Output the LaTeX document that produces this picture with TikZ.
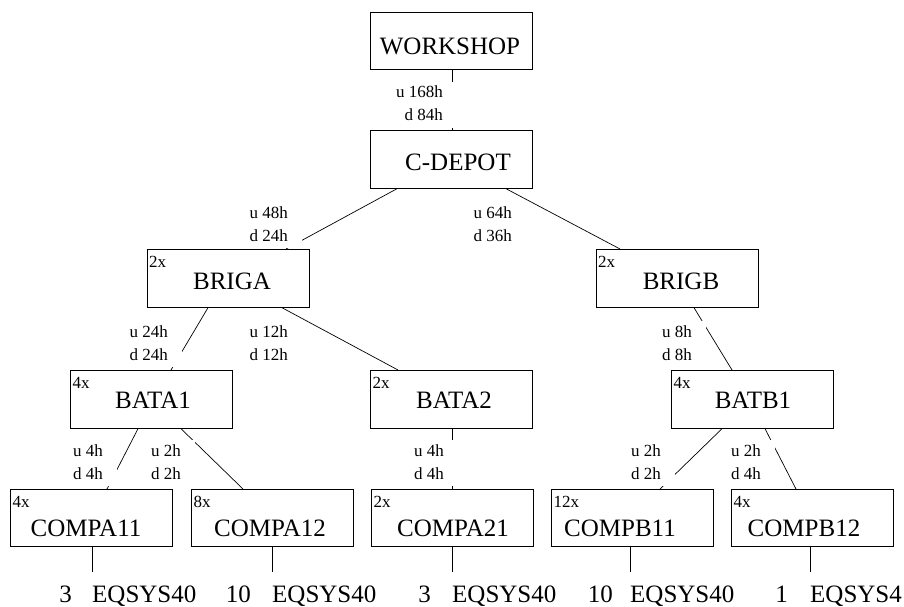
\documentclass[tikz,border=0pt]{standalone}
\usepackage{fontspec}
\setmainfont{Liberation Serif}
\usetikzlibrary{calc}
\newcommand{\udlbl}[2]{\begin{tabular}{@{}r@{\hspace{14pt}}}#1\\#2\end{tabular}}
\tikzset{
  box/.style={draw, anchor=north west, minimum width=162pt, minimum height=58pt, inner sep=0pt, line width=0.7pt},
  nm/.style={anchor=base, inner sep=0pt, font=\fontsize{25}{30}\selectfont},
  cnt/.style={anchor=base west, inner sep=0pt, font=\fontsize{17}{20}\selectfont},
  lbl/.style={anchor=east, fill=white, inner sep=0pt, font=\fontsize{17}{23}\selectfont},
  conn/.style={line width=0.7pt},
  bot/.style={anchor=base, inner sep=0pt, font=\fontsize{25}{30}\selectfont},
}
\begin{document}
\begin{tikzpicture}[x=1pt,y=-1pt]
\useasboundingbox (0,0) rectangle (904,607);
\fill[white] (0,0) rectangle (904,607);
% boxes
\node[box, minimum height=57pt] (ws) at (370,12) {};
\node[box] (cd) at (370,130) {};
\node[box] (briga) at (147,249) {};
\node[box] (brigb) at (596,249) {};
\node[box] (bata1) at (70,370) {};
\node[box] (bata2) at (370,370) {};
\node[box] (batb1) at (671,370) {};
\node[box, minimum height=57pt] (compa11) at (10,489) {};
\node[box, minimum height=57pt] (compa12) at (191,489) {};
\node[box, minimum height=57pt] (compa21) at (371,489) {};
\node[box, minimum height=57pt] (compb11) at (551,489) {};
\node[box, minimum height=57pt] (compb12) at (731,489) {};
% names
\node[nm] (wsn) at (450,55) {WORKSHOP};
\node[nm] (cdn) at (458,170) {C-DEPOT};
\node[nm] (brigan) at (232,289) {BRIGA};
\node[nm] (brigbn) at (681,289) {BRIGB};
\node[nm] (bata1n) at (153,408) {BATA1};
\node[nm] (bata2n) at (454,408) {BATA2};
\node[nm] (batb1n) at (753,408) {BATB1};
\node[nm] (compa11n) at (86,536) {COMPA11};
\node[nm] (compa12n) at (270,536) {COMPA12};
\node[nm] (compa21n) at (453,536) {COMPA21};
\node[nm] (compb11n) at (620,536) {COMPB11};
\node[nm] (compb12n) at (804,536) {COMPB12};
% counts
\node[cnt] (brigac) at ([shift={(2,18)}]briga.north west) {2x};
\node[cnt] (brigbc) at ([shift={(2,18)}]brigb.north west) {2x};
\node[cnt] (bata1c) at ([shift={(2.5,18.5)}]bata1.north west) {4x};
\node[cnt] (bata2c) at ([shift={(2.5,18.5)}]bata2.north west) {2x};
\node[cnt] (batb1c) at ([shift={(2.5,18.5)}]batb1.north west) {4x};
\node[cnt] (compa11c) at ([shift={(2.5,18.5)}]compa11.north west) {4x};
\node[cnt] (compa12c) at ([shift={(2.5,18.5)}]compa12.north west) {8x};
\node[cnt] (compa21c) at ([shift={(2.5,18.5)}]compa21.north west) {2x};
\node[cnt] (compb11c) at ([shift={(2.5,18.5)}]compb11.north west) {12x};
\node[cnt] (compb12c) at ([shift={(2.5,18.5)}]compb12.north west) {4x};
% connectors
\draw[conn] ([xshift=82pt]ws.south west) -- ([xshift=82pt]cd.north west);
\draw[conn] ([xshift=27pt]cd.south west) -- ([xshift=139pt]briga.north west);
\draw[conn] ([xshift=136pt]cd.south west) -- ([xshift=24pt]brigb.north west);
\draw[conn] ([xshift=61pt]briga.south west) -- ([xshift=101pt]bata1.north west);
\draw[conn] ([xshift=135pt]briga.south west) -- ([xshift=28pt]bata2.north west);
\draw[conn] ([xshift=98pt]brigb.south west) -- ([xshift=61pt]batb1.north west);
\draw[conn] ([xshift=68pt]bata1.south west) -- ([xshift=97pt]compa11.north west);
\draw[conn] ([xshift=111pt]bata1.south west) -- ([xshift=52pt]compa12.north west);
\draw[conn] ([xshift=82pt]bata2.south west) -- ([xshift=81pt]compa21.north west);
\draw[conn] ([xshift=51pt]batb1.south west) -- ([xshift=109pt]compb11.north west);
\draw[conn] ([xshift=94pt]batb1.south west) -- ([xshift=65pt]compb12.north west);
% labels
\node[lbl] (l1) at (457,104.9) {\udlbl{u 168h}{d 84h}};
\node[lbl] (l2) at (302,224.9) {\udlbl{u 48h}{d 24h}};
\node[lbl] (l3) at (526,224.9) {\udlbl{u 64h}{d 36h}};
\node[lbl] (l4) at (182,343.9) {\udlbl{u 24h}{d 24h}};
\node[lbl] (l5) at (302,343.9) {\udlbl{u 12h}{d 12h}};
\node[lbl] (l6) at (706,343.9) {\udlbl{u 8h}{d 8h}};
\node[lbl] (l7) at (117,462.9) {\udlbl{u 4h}{d 4h}};
\node[lbl] (l8) at (195,462.9) {\udlbl{u 2h}{d 2h}};
\node[lbl] (l9) at (458,462.9) {\udlbl{u 4h}{d 4h}};
\node[lbl] (l10) at (675,462.9) {\udlbl{u 2h}{d 2h}};
\node[lbl] (l11) at (775,462.9) {\udlbl{u 2h}{d 4h}};
% bottom
\coordinate (e1) at (92,572);
\coordinate (e2) at (272,572);
\coordinate (e3) at (452,572);
\coordinate (e4) at (630,572);
\coordinate (e5) at (810,572);
\draw[conn] (compa11.south west -| e1) -- (e1);
\draw[conn] (compa12.south west -| e2) -- (e2);
\draw[conn] (compa21.south west -| e3) -- (e3);
\draw[conn] (compb11.south west -| e4) -- (e4);
\draw[conn] (compb12.south west -| e5) -- (e5);
\node[bot, anchor=base west] (q1) at (92,602) {EQSYS40};
\node[bot, anchor=base west] (q2) at (272,602) {EQSYS40};
\node[bot, anchor=base west] (q3) at (452,602) {EQSYS40};
\node[bot, anchor=base west] (q4) at (630,602) {EQSYS40};
\node[bot, anchor=base west] (q5) at (810,602) {EQSYS4};
\node[bot, anchor=base east] (n1) at (72,602) {3};
\node[bot, anchor=base east] (n2) at (251,602) {10};
\node[bot, anchor=base east] (n3) at (431,602) {3};
\node[bot, anchor=base east] (n4) at (613,602) {10};
\node[bot, anchor=base east] (n5) at (788,602) {1};
\end{tikzpicture}
\end{document}
